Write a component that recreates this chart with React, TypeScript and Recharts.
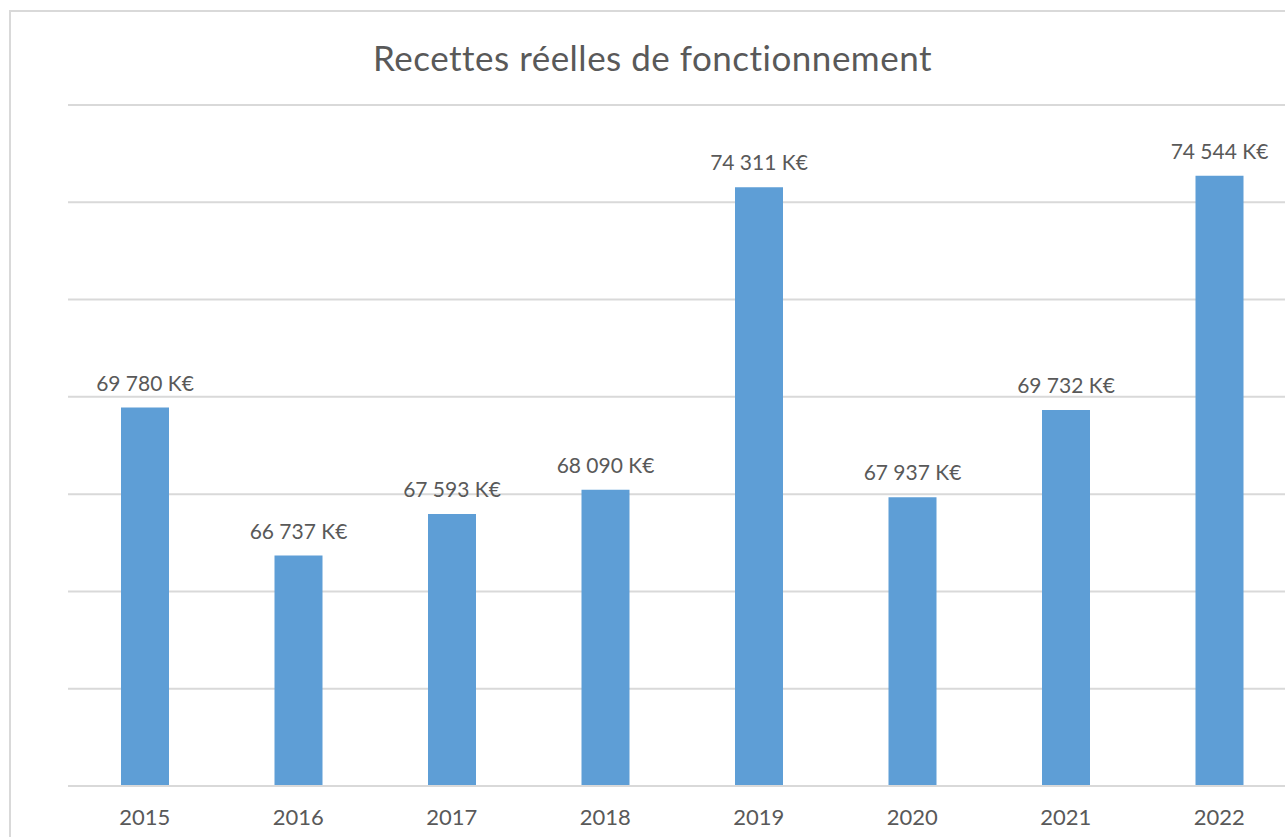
import { BarChart, Bar, XAxis, YAxis, CartesianGrid, LabelList } from 'recharts'

const years = ['2015', '2016', '2017', '2018', '2019', '2020', '2021', '2022']
const recettes = [69780, 66737, 67593, 68090, 74311, 67937, 69732, 74544]
const yTicks = [62000, 64000, 66000, 68000, 70000, 72000, 74000, 76000]

const data = years.map((year, i) => ({ year, value: recettes[i] }))

const fmt = (v: number) => {
  const s = String(Math.round(v))
  return s.replace(/\B(?=(\d{3})+(?!\d))/g, ' ') + ' K€'
}

const font = 'Lato, "Open Sans", sans-serif'

const ValueLabel = (props: any) => {
  const { x, y, width, value } = props
  return (
    <text
      x={x + width / 2}
      y={y - 17}
      textAnchor="middle"
      fill="#595959"
      fontSize={21}
      fontFamily={font}
    >
      {fmt(value)}
    </text>
  )
}

export default function App() {
  return (
    <div
      style={{
        position: 'fixed',
        left: 0,
        top: 0,
        width: 1285,
        height: 837,
        overflow: 'hidden',
        background: '#ffffff',
        fontFamily: font,
      }}
    >
      <div
        style={{
          position: 'absolute',
          left: 9,
          top: 10,
          width: 1400,
          height: 900,
          border: '2px solid #d9d9d9',
          boxSizing: 'border-box',
        }}
      />
      <div
        style={{
          position: 'absolute',
          left: 0,
          top: 36,
          width: 1305,
          textAlign: 'center',
          fontSize: 35,
          letterSpacing: 0.5,
          color: '#595959',
        }}
      >
        Recettes réelles de fonctionnement
      </div>
      <div style={{ position: 'absolute', left: 0, top: 0 }}>
        <BarChart
          width={1300}
          height={837}
          data={data}
          margin={{ top: 105, right: 4, bottom: 1, left: 68 }}
        >
          <CartesianGrid vertical={false} stroke="#d9d9d9" strokeWidth={2} />
          <YAxis hide domain={[62000, 76000]} ticks={yTicks} />
          <XAxis
            dataKey="year"
            height={50}
            axisLine={{ stroke: '#d9d9d9', strokeWidth: 2 }}
            tickLine={false}
            tick={{ fill: '#595959', fontSize: 22, fontFamily: font }}
            tickMargin={17}
          />
          <Bar dataKey="value" fill="#5E9ED6" barSize={48} isAnimationActive={false}>
            <LabelList dataKey="value" content={ValueLabel} />
          </Bar>
        </BarChart>
      </div>
    </div>
  )
}
